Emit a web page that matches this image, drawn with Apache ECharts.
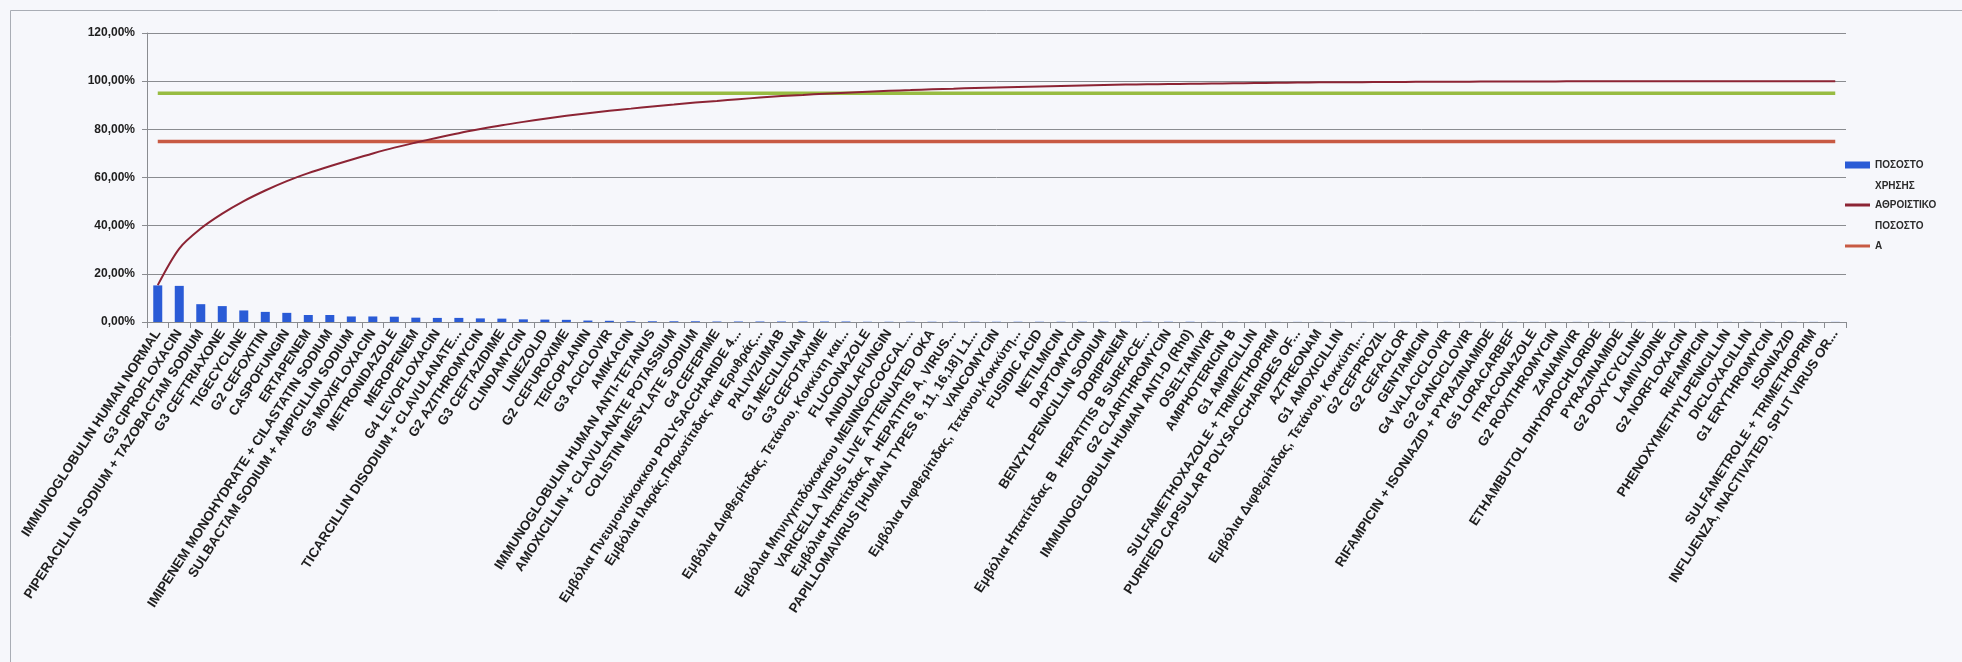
<!DOCTYPE html>
<html>
<head>
<meta charset="utf-8">
<title>Pareto</title>
<script src="https://cdn.jsdelivr.net/npm/echarts@6/dist/echarts.min.js"></script>
<style>
  html, body { margin: 0; padding: 0; background: #f6f7fb; }
  #chart { width: 1962px; height: 662px; }
</style>
</head>
<body>
<div id="chart"></div>
<script>
// Drug / vaccine names, in descending order of usage
const categories = [
  'IMMUNOGLOBULIN HUMAN NORMAL',
  'G3 CIPROFLOXACIN',
  'PIPERACILLIN SODIUM + TAZOBACTAM SODIUM',
  'G3 CEFTRIAXONE',
  'TIGECYCLINE',
  'G2 CEFOXITIN',
  'CASPOFUNGIN',
  'ERTAPENEM',
  'IMIPENEM MONOHYDRATE + CILASTATIN SODIUM',
  'SULBACTAM SODIUM + AMPICILLIN SODIUM',
  'G5 MOXIFLOXACIN',
  'METRONIDAZOLE',
  'MEROPENEM',
  'G4 LEVOFLOXACIN',
  'TICARCILLIN DISODIUM + CLAVULANATE...',
  'G2 AZITHROMYCIN',
  'G3 CEFTAZIDIME',
  'CLINDAMYCIN',
  'LINEZOLID',
  'G2 CEFUROXIME',
  'TEICOPLANIN',
  'G3 ACICLOVIR',
  'AMIKACIN',
  'IMMUNOGLOBULIN HUMAN ANTI-TETANUS',
  'AMOXICILLIN + CLAVULANATE POTASSIUM',
  'COLISTIN MESYLATE SODIUM',
  'G4 CEFEPIME',
  'Εμβόλια Πνευμονιόκοκκου POLYSACCHARIDE 4...',
  'Εμβόλια Ιλαράς,Παρωτίτιδας και Ερυθράς...',
  'PALIVIZUMAB',
  'G1 MECILLINAM',
  'G3 CEFOTAXIME',
  'Εμβόλια Διφθερίτιδας, Τετάνου, Κοκκύτη και...',
  'FLUCONAZOLE',
  'ANIDULAFUNGIN',
  'Εμβόλια Μηνιγγιτιδόκοκκου MENINGOCOCCAL...',
  'VARICELLA VIRUS LIVE ATTENUATED OKA',
  'Εμβόλια Ηπατίτιδας Α  HEPATITIS A, VIRUS...',
  'PAPILLOMAVIRUS [HUMAN TYPES 6, 11, 16,18] L1...',
  'VANCOMYCIN',
  'Εμβόλια Διφθερίτιδας, Τετάνου,Κοκκύτη...',
  'FUSIDIC ACID',
  'NETILMICIN',
  'DAPTOMYCIN',
  'BENZYLPENICILLIN SODIUM',
  'DORIPENEM',
  'Εμβόλια Ηπατίτιδας Β  HEPATITIS B SURFACE...',
  'G2 CLARITHROMYCIN',
  'IMMUNOGLOBULIN HUMAN ANTI-D (Rh0)',
  'OSELTAMIVIR',
  'AMPHOTERICIN B',
  'G1 AMPICILLIN',
  'SULFAMETHOXAZOLE + TRIMETHOPRIM',
  'PURIFIED CAPSULAR POLYSACCHARIDES OF...',
  'AZTREONAM',
  'G1 AMOXICILLIN',
  'Εμβόλια Διφθερίτιδας, Τετάνου, Κοκκύτη,...',
  'G2 CEFPROZIL',
  'G2 CEFACLOR',
  'GENTAMICIN',
  'G4 VALACICLOVIR',
  'G2 GANCICLOVIR',
  'RIFAMPICIN + ISONIAZID + PYRAZINAMIDE',
  'G5 LORACARBEF',
  'ITRACONAZOLE',
  'G2 ROXITHROMYCIN',
  'ZANAMIVIR',
  'ETHAMBUTOL DIHYDROCHLORIDE',
  'PYRAZINAMIDE',
  'G2 DOXYCYCLINE',
  'LAMIVUDINE',
  'G2 NORFLOXACIN',
  'RIFAMPICIN',
  'PHENOXYMETHYLPENICILLIN',
  'DICLOXACILLIN',
  'G1 ERYTHROMYCIN',
  'ISONIAZID',
  'SULFAMETROLE + TRIMETHOPRIM',
  'INFLUENZA, INACTIVATED, SPLIT VIRUS OR...'
];

// ΠΟΣΟΣΤΟ ΧΡΗΣΗΣ (%)
const usageShare = [
  15.2, 15.0, 7.4, 6.6, 4.8, 4.2, 3.8, 2.9, 2.9, 2.3,
  2.3, 2.2, 1.8, 1.7, 1.7, 1.5, 1.4, 1.1, 1.0, 0.9,
  0.6, 0.5, 0.3, 0.3, 0.3, 0.3, 0.2, 0.2, 0.2, 0.2,
  0.2, 0.2, 0.2, 0.1, 0.1, 0.1, 0.1, 0.1, 0.1, 0.1,
  0.1, 0.1, 0.1, 0.1, 0.1, 0.1, 0.1, 0.1, 0.1, 0.05,
  0.05, 0.05, 0.05, 0.05, 0.05, 0.05, 0.05, 0.05, 0.05, 0.05,
  0.05, 0.05, 0.05, 0.05, 0.05, 0.05, 0.05, 0.05, 0.05, 0.05,
  0.05, 0.05, 0.05, 0.05, 0.05, 0.05, 0.05, 0.05, 0.05
];

// ΑΘΡΟΙΣΤΙΚΟ ΠΟΣΟΣΤΟ (%)
const cumulativeShare = [
  15.3, 30.5, 38.8, 45.0, 50.2, 54.6, 58.5, 61.8, 64.7, 67.4,
  70.0, 72.4, 74.5, 76.5, 78.4, 80.1, 81.7, 83.1, 84.4, 85.6,
  86.7, 87.7, 88.6, 89.5, 90.3, 91.1, 91.8, 92.5, 93.2, 93.8,
  94.3, 94.8, 95.2, 95.6, 96.0, 96.3, 96.6, 96.9, 97.2, 97.4,
  97.6, 97.8, 98.0, 98.2, 98.4, 98.6, 98.7, 98.8, 98.9, 99.0,
  99.1, 99.2, 99.3, 99.4, 99.5, 99.6, 99.6, 99.7, 99.7, 99.8,
  99.8, 99.8, 99.9, 99.9, 99.9, 99.9, 100, 100, 100, 100,
  100, 100, 100, 100, 100, 100, 100, 100, 100
];

// Threshold levels (%)
const thresholdA = 75;
const thresholdB = 95;

// Y axis ticks (%)
const yTicks = { min: 0, max: 120, step: 20 };

const seriesNames = {
  usage: 'ΠΟΣΟΣΤΟ\nΧΡΗΣΗΣ',
  cumulative: 'ΑΘΡΟΙΣΤΙΚΟ\nΠΟΣΟΣΤΟ',
  a: 'A',
  b: 'B'
};

const FONT = '"Liberation Sans", Arial, sans-serif';
const LEGEND_LINE = 21;

const colors = {
  bar: '#2a5bd6',
  cumulative: '#8c2434',
  a: '#c85a43',
  b: '#98bc42',
  grid: '#8a8c90',
  text: '#1e1e1e'
};

const chart = echarts.init(document.getElementById('chart'), null, { renderer: 'canvas' });

// Legend box whose swatch sits beside the first line of a two-line name.
// The swatch path spans the full item height; tiny corner points keep its
// bounding box, so the visible bar lands at the first text line.
function legendBox(name, firstLineY, twoLine, swatchH) {
  const H = twoLine ? 2 * LEGEND_LINE : swatchH;
  const y0 = twoLine ? LEGEND_LINE / 2 - swatchH / 2 : 0;
  const icon = twoLine
    ? 'path://M0,0H0.02V0.02H0Z M0,' + y0 + 'H25V' + (y0 + swatchH) + 'H0Z M24.98,' + (H - 0.02) + 'H25V' + H + 'H24.98Z'
    : 'rect';
  return {
    data: [{ name: name, icon: icon }],
    orient: 'vertical',
    left: 1845,
    top: firstLineY - LEGEND_LINE / 2,
    itemWidth: 25,
    itemHeight: H,
    itemGap: 0,
    padding: 0,
    selectedMode: false,
    textStyle: {
      fontFamily: FONT,
      fontSize: 10,
      fontWeight: 'bold',
      color: '#2a2a2a',
      lineHeight: LEGEND_LINE
    }
  };
}

const option = {
  backgroundColor: '#f6f7fb',
  animation: false,
  graphic: [{
    type: 'rect',
    left: 8, top: 8,
    shape: { width: 1990, height: 700 },
    style: { fill: 'none', stroke: '#a9adb5', lineWidth: 1 },
    silent: true
  }],
  legend: [
    legendBox(seriesNames.usage, 165, true, 7),
    legendBox(seriesNames.cumulative, 205, true, 3),
    legendBox(seriesNames.a, 246, false, 3)
  ],
  grid: { left: 147, right: 116, top: 33, bottom: 340, containLabel: false },
  xAxis: {
    type: 'category',
    data: categories,
    boundaryGap: true,
    axisLine: { lineStyle: { color: colors.grid, width: 1 } },
    axisTick: { show: true, alignWithLabel: false, length: 6, lineStyle: { color: colors.grid } },
    axisLabel: {
      interval: 0,
      rotate: 57,
      margin: 9,
      fontFamily: FONT,
      fontSize: 13.5,
      fontWeight: 'bold',
      color: colors.text
    }
  },
  yAxis: {
    type: 'value',
    min: yTicks.min,
    max: yTicks.max,
    interval: yTicks.step,
    axisLine: { show: true, lineStyle: { color: colors.grid, width: 1 } },
    axisTick: { show: true, length: 5, lineStyle: { color: colors.grid } },
    splitLine: { show: true, lineStyle: { color: colors.grid, width: 1 } },
    axisLabel: {
      margin: 12,
      fontFamily: FONT,
      fontSize: 12,
      fontWeight: 'bold',
      color: colors.text,
      formatter: v => v.toFixed(2).replace('.', ',') + '%'
    }
  },
  series: [
    {
      name: seriesNames.usage,
      type: 'bar',
      data: usageShare,
      barWidth: 9,
      itemStyle: { color: colors.bar }
    },
    {
      name: seriesNames.cumulative,
      type: 'line',
      data: cumulativeShare,
      symbol: 'none',
      smooth: 0.3,
      lineStyle: { color: colors.cumulative, width: 2 },
      itemStyle: { color: colors.cumulative },
      z: 4
    },
    {
      name: seriesNames.a,
      type: 'line',
      data: categories.map(() => thresholdA),
      symbol: 'none',
      lineStyle: { color: colors.a, width: 3.5 },
      itemStyle: { color: colors.a },
      z: 3
    },
    {
      name: seriesNames.b,
      type: 'line',
      data: categories.map(() => thresholdB),
      symbol: 'none',
      lineStyle: { color: colors.b, width: 3.5 },
      itemStyle: { color: colors.b },
      z: 3
    }
  ]
};

chart.setOption(option);
</script>
</body>
</html>
